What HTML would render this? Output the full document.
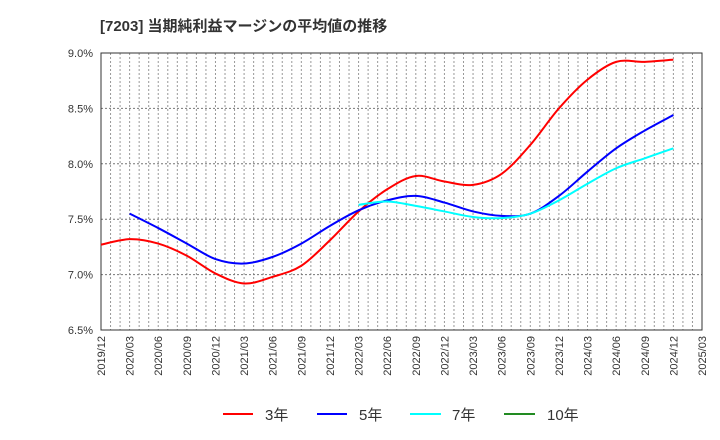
<!DOCTYPE html>
<html><head><meta charset="utf-8"><style>
body{margin:0;background:#fff;}
svg{display:block;font-family:"Liberation Sans","Noto Sans CJK JP",sans-serif;}
</style></head><body>
<svg id="c" width="720" height="440" xmlns="http://www.w3.org/2000/svg">
<text x="100" y="31" font-size="15" font-weight="bold" fill="#333">[7203]  当期純利益マージンの平均値の推移</text>
<g id="grid"></g><g id="axes"></g><g id="series"></g>
<g font-size="15" fill="#333">
<g><line x1="223" y1="414" x2="253" y2="414" stroke="#f00" stroke-width="2"/><text x="265" y="420">3年</text></g>
<g><line x1="317" y1="414" x2="347" y2="414" stroke="#00f" stroke-width="2"/><text x="359" y="420">5年</text></g>
<g><line x1="410" y1="414" x2="441" y2="414" stroke="#0ff" stroke-width="2"/><text x="452" y="420">7年</text></g>
<g><line x1="504" y1="414" x2="535" y2="414" stroke="#228b22" stroke-width="2"/><text x="547" y="420">10年</text></g>
</g>
</svg>
<script>
const xLabels=["2019/12","2020/03","2020/06","2020/09","2020/12","2021/03","2021/06","2021/09","2021/12","2022/03","2022/06","2022/09","2022/12","2023/03","2023/06","2023/09","2023/12","2024/03","2024/06","2024/09","2024/12","2025/03"];
const yTicks=[6.5,7.0,7.5,8.0,8.5,9.0];
const s3=[7.27,7.32,7.28,7.17,7.01,6.92,6.98,7.08,7.31,7.57,7.77,7.89,7.84,7.81,7.91,8.17,8.50,8.76,8.92,8.92,8.94];
const s3Start=0;
const s5=[7.55,7.42,7.28,7.14,7.10,7.16,7.28,7.44,7.58,7.67,7.71,7.65,7.57,7.53,7.55,7.71,7.93,8.14,8.30,8.44];
const s5Start=1;
const s7=[7.63,7.66,7.62,7.57,7.52,7.51,7.55,7.67,7.82,7.96,8.05,8.14];
const s7Start=9;
const X0=101,X1=702,Y0=53,Y1=330;
const xs=i=>X0+(X1-X0)*i/(xLabels.length-1);
const ys=v=>Y1-(v-6.5)/(9.0-6.5)*(Y1-Y0);
const NS="http://www.w3.org/2000/svg";
function mk(t,p,a){const e=document.createElementNS(NS,t);for(const k in a)e.setAttribute(k,a[k]);p.appendChild(e);return e;}
const grid=document.getElementById('grid'),axes=document.getElementById('axes'),ser=document.getElementById('series');
for(let m=1;m<63;m++){const x=X0+(X1-X0)*m/63;
const l=mk('line',grid,{x1:x,x2:x,y1:Y0,y2:Y1,stroke:'#999','stroke-dasharray':'2,2'});

}
yTicks.forEach(v=>{const y=ys(v);
const l=mk('line',grid,{x1:X0,x2:X1,y1:y,y2:y,stroke:'#777','stroke-dasharray':'2,2'});


const t=mk('text',axes,{x:X0-8,y:y+4,'text-anchor':'end','font-size':'11',fill:'#333'});t.textContent=v.toFixed(1)+'%';

});
const r=mk('rect',axes,{x:X0,y:Y0,width:X1-X0,height:Y1-Y0,fill:'none',stroke:'#333','stroke-width':1});


xLabels.forEach((s,i)=>{const x=xs(i);
const t=mk('text',axes,{x:x+4,y:Y1+6,'text-anchor':'end','font-size':'11',fill:'#333',transform:`rotate(-90 ${x+4} ${Y1+6})`});t.textContent=s;

});
function path(arr,start){const p=arr.map((v,i)=>[xs(start+i),ys(v)]);let d=`M${p[0][0]},${p[0][1]}`;
for(let i=0;i<p.length-1;i++){const a=p[i-1]||p[i],b=p[i],c=p[i+1],e=p[i+2]||c;
d+=` C${b[0]+(c[0]-a[0])/6},${b[1]+(c[1]-a[1])/6} ${c[0]-(e[0]-b[0])/6},${c[1]-(e[1]-b[1])/6} ${c[0]},${c[1]}`;}return d;}
[[s3,s3Start,'#f00','line-3y'],[s5,s5Start,'#00f','line-5y'],[s7,s7Start,'#0ff','line-7y']].forEach(([a,s,c,n])=>{
const e=mk('path',ser,{d:path(a,s),fill:'none',stroke:c,'stroke-width':2});

});
</script>
</body></html>
